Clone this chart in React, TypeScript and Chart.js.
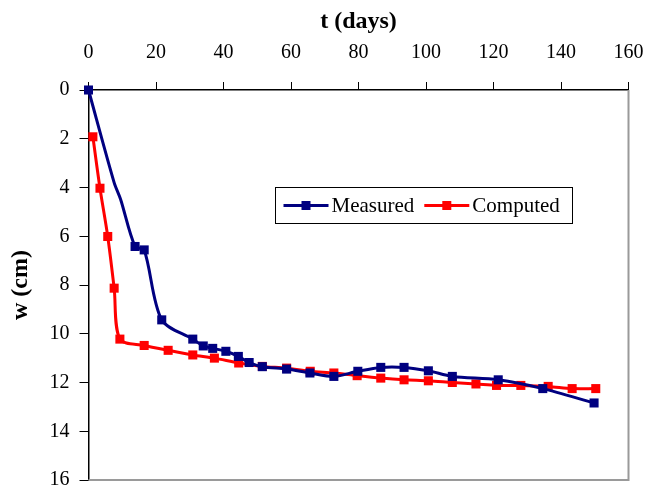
import React, { useEffect, useRef } from "react";
import { Chart, registerables } from "chart.js";

Chart.register(...registerables);

// Measured settlement (t in days, w in cm)
const measuredT = [0, 7.6, 9.5, 13.8, 16.5, 21.7, 30.9, 34.0, 36.8, 40.7, 44.4, 47.6, 51.5, 58.7, 65.6, 72.7, 79.8, 86.6, 93.5, 100.7, 107.8, 121.4, 134.6, 149.8];
const measuredW = [0, 3.8, 4.48, 6.42, 6.56, 9.43, 10.22, 10.5, 10.6, 10.72, 10.93, 11.18, 11.35, 11.45, 11.61, 11.75, 11.54, 11.38, 11.38, 11.52, 11.75, 11.89, 12.25, 12.84];
const measuredMarked = [true, false, false, true, true, true, true, true, true, true, true, true, true, true, true, true, true, true, true, true, true, true, true, true];

// Computed settlement
const computedT = [1.3, 3.4, 5.7, 7.6, 9.3, 16.5, 23.6, 30.9, 37.3, 44.5, 51.5, 58.7, 65.7, 72.7, 79.6, 86.6, 93.5, 100.7, 107.8, 114.8, 120.9, 128.1, 136.2, 143.3, 150.3];
const computedW = [1.92, 4.03, 6.01, 8.13, 10.22, 10.48, 10.68, 10.87, 11.0, 11.2, 11.34, 11.41, 11.54, 11.61, 11.72, 11.82, 11.89, 11.93, 12.0, 12.06, 12.12, 12.12, 12.16, 12.25, 12.25];

const seriesNames = ["Measured", "Computed"];
const seriesColors = ["#000080", "#FF0000"];
const xTitle = "t (days)";
const yTitle = "w (cm)";

const FONT = "'Liberation Serif', 'Times New Roman', serif";

const framePlugin = {
  id: "frame",
  beforeDatasetsDraw(chart: any) {
    const { ctx, chartArea } = chart;
    ctx.save();
    ctx.strokeStyle = "#9a9a9a";
    ctx.lineWidth = 2;
    ctx.beginPath();
    ctx.moveTo(chartArea.right, chartArea.top);
    ctx.lineTo(chartArea.right, chartArea.bottom);
    ctx.lineTo(chartArea.left, chartArea.bottom);
    ctx.stroke();
    ctx.restore();
  },
};

const legendPlugin = {
  id: "boxLegend",
  afterDatasetsDraw(chart: any) {
    const { ctx, chartArea } = chart;
    const x0 = Math.round(chartArea.left + 186.5) + 0.5;
    const y0 = Math.round(chartArea.top + 97) + 0.5;
    const w = 297;
    const h = 36;
    ctx.save();
    ctx.fillStyle = "#fff";
    ctx.fillRect(x0, y0, w, h);
    ctx.strokeStyle = "#000";
    ctx.lineWidth = 1;
    ctx.strokeRect(x0, y0, w, h);
    ctx.font = `21px ${FONT}`;
    ctx.textBaseline = "middle";
    ctx.textAlign = "left";
    let x = x0 + 8;
    const cy = y0 + h / 2;
    chart.data.datasets.forEach((ds: any) => {
      ctx.strokeStyle = ds.borderColor;
      ctx.lineWidth = 3;
      ctx.beginPath();
      ctx.moveTo(x, cy);
      ctx.lineTo(x + 45, cy);
      ctx.stroke();
      ctx.fillStyle = ds.borderColor;
      ctx.fillRect(x + 22.5 - 4.5, cy - 4.5, 9, 9);
      ctx.fillStyle = "#000";
      ctx.fillText(ds.label, x + 48, cy + 1);
      x += 48 + ctx.measureText(ds.label).width + 10;
    });
    ctx.restore();
  },
};

export default function App() {
  const ref = useRef<HTMLCanvasElement | null>(null);

  useEffect(() => {
    document.body.style.margin = "0";
    if (!ref.current) return;
    const chart = new Chart(ref.current, {
      type: "line",
      data: {
        datasets: [
          {
            label: seriesNames[0],
            data: measuredT.map((t, i) => ({ x: t, y: measuredW[i] })),
            borderColor: seriesColors[0],
            backgroundColor: seriesColors[0],
            borderWidth: 3,
            pointStyle: "rect",
            pointRadius: measuredMarked.map((m) => (m ? 6.4 : 0)),
            pointBorderWidth: 0,
            tension: 0.3,
            clip: false,
          },
          {
            label: seriesNames[1],
            data: computedT.map((t, i) => ({ x: t, y: computedW[i] })),
            borderColor: seriesColors[1],
            backgroundColor: seriesColors[1],
            borderWidth: 3,
            pointStyle: "rect",
            pointRadius: 6.4,
            pointBorderWidth: 0,
            tension: 0.3,
            clip: false,
          },
        ],
      },
      options: {
        responsive: false,
        animation: false,
        layout: { padding: { left: 0, top: 0, right: 19.5, bottom: 8 } },
        plugins: {
          legend: { display: false },
          tooltip: { enabled: false },
        },
        scales: {
          x: {
            type: "linear",
            position: "top",
            min: 0,
            max: 160,
            ticks: {
              stepSize: 20,
              padding: 17,
              color: "#000",
              font: { family: FONT, size: 20 },
              maxRotation: 0,
            },
            grid: {
              drawOnChartArea: false,
              drawTicks: true,
              tickLength: 8,
              color: "#000",
            },
            border: { display: true, color: "#000", width: 1.5 },
            title: {
              display: true,
              text: xTitle,
              color: "#000",
              font: { family: FONT, size: 24, weight: "bold" },
              padding: { top: 7, bottom: 0 },
            },
            afterFit(scale: any) {
              scale.height = 90;
              scale.paddingLeft = 0;
              scale.paddingRight = 0;
            },
          },
          y: {
            type: "linear",
            reverse: true,
            min: 0,
            max: 16,
            ticks: {
              stepSize: 2,
              padding: 10,
              color: "#000",
              font: { family: FONT, size: 20 },
            },
            grid: {
              drawOnChartArea: false,
              drawTicks: true,
              tickLength: 9,
              color: "#000",
            },
            border: { display: true, color: "#000", width: 1.5 },
            title: {
              display: true,
              text: yTitle,
              color: "#000",
              font: { family: FONT, size: 24, weight: "bold" },
              padding: { top: 6, bottom: 0 },
            },
            afterFit(scale: any) {
              scale.width = 88.5;
              scale.paddingTop = 0;
              scale.paddingBottom = 0;
            },
          },
        },
      } as any,
      plugins: [framePlugin, legendPlugin],
    });
    return () => chart.destroy();
  }, []);

  return (
    <div style={{ width: 648, height: 488, background: "#fff" }}>
      <canvas ref={ref} width={648} height={488} />
    </div>
  );
}
